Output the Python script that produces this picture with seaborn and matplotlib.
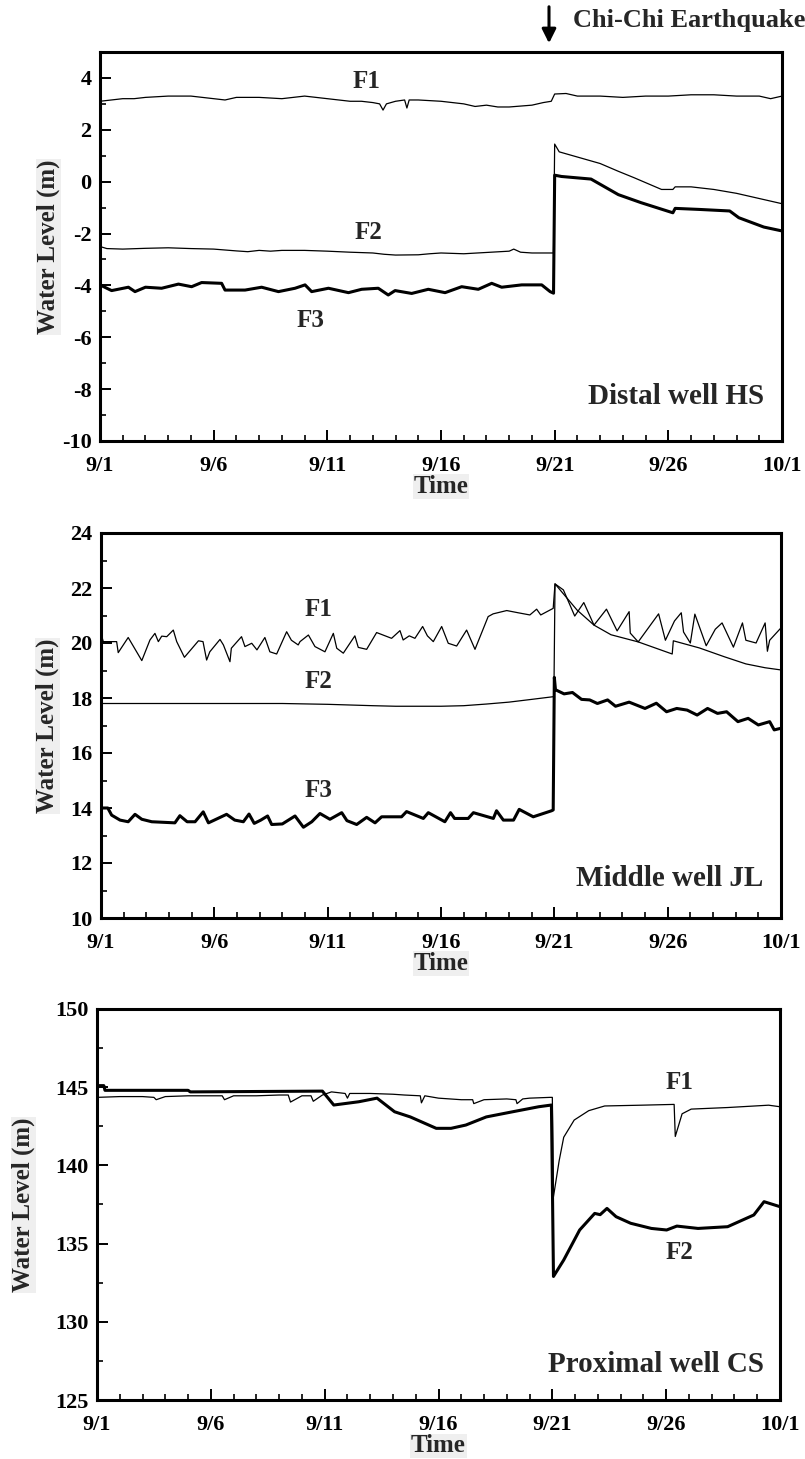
import numpy as np
import pandas as pd
import matplotlib
matplotlib.use("Agg")
import matplotlib.pyplot as plt
from matplotlib.ticker import MultipleLocator, FixedLocator
import seaborn as sns

# ---------------- data (days after 9/1, water level in m) ----------------
date_ticks = [0, 5, 10, 15, 20, 25, 30]
date_labels = ["9/1", "9/6", "9/11", "9/16", "9/21", "9/26", "10/1"]

# Distal well HS
hs_f1_t = [0, 0.5, 1, 1.5, 2, 3, 4, 4.5, 5, 5.5, 6, 7, 8, 9, 9.5, 10, 11, 11.5, 12, 12.3,
           12.45, 12.6, 13, 13.4, 13.5, 13.6, 14, 15, 16, 16.5, 17, 17.5, 18, 19, 19.5,
           19.85, 20.0, 20.5, 21, 22, 23, 24, 25, 26, 27, 28, 29, 29.5, 30]
hs_f1 = [3.1, 3.15, 3.2, 3.2, 3.25, 3.3, 3.3, 3.25, 3.2, 3.15, 3.25, 3.25, 3.2, 3.3, 3.25,
         3.2, 3.1, 3.1, 3.05, 3.0, 2.76, 3.0, 3.1, 3.15, 2.84, 3.15, 3.15, 3.1, 3.0, 2.9,
         2.95, 2.88, 2.88, 2.95, 3.05, 3.1, 3.38, 3.4, 3.3, 3.3, 3.25, 3.3, 3.3, 3.35, 3.35,
         3.3, 3.3, 3.2, 3.3]
hs_f2_t = [0, 0.3, 1, 2, 3, 4, 5, 6, 6.5, 7, 7.5, 8, 9, 10, 11, 12, 12.5, 13, 14, 14.5, 15,
           16, 17, 18, 18.2, 18.5, 19, 19.95, 20.0, 20.2, 21, 22, 22.8, 23.5, 24.7, 25.2,
           25.3, 26, 27, 28, 29, 30]
hs_f2 = [-2.5, -2.58, -2.6, -2.57, -2.55, -2.58, -2.6, -2.67, -2.7, -2.65, -2.68, -2.65,
         -2.65, -2.68, -2.72, -2.75, -2.8, -2.83, -2.82, -2.78, -2.75, -2.78, -2.73, -2.68,
         -2.6, -2.72, -2.75, -2.75, 1.45, 1.15, 0.95, 0.7, 0.4, 0.15, -0.3, -0.3, -0.2,
         -0.2, -0.3, -0.45, -0.65, -0.85]
hs_f3_t = [0, 0.51, 1.25, 1.54, 2.0, 2.71, 3.45, 4.03, 4.47, 5.35, 5.5, 6.38, 7.11, 7.85,
           8.58, 9.02, 9.31, 10.05, 10.93, 11.51, 12.24, 12.68, 12.98, 13.71, 14.44, 15.18,
           15.91, 16.64, 17.23, 17.67, 18.55, 19.43, 19.8, 19.95, 20.0, 20.3, 21.6, 22.8,
           23.8, 25.2, 25.3, 26.35, 27.7, 28.1, 29.2, 30]
hs_f3 = [-3.98, -4.2, -4.07, -4.24, -4.07, -4.11, -3.95, -4.05, -3.89, -3.92, -4.18, -4.18,
         -4.07, -4.24, -4.11, -3.98, -4.24, -4.11, -4.28, -4.15, -4.11, -4.37, -4.2, -4.31,
         -4.15, -4.28, -4.05, -4.15, -3.92, -4.07, -3.98, -3.98, -4.24, -4.3, 0.25, 0.2,
         0.1, -0.5, -0.81, -1.2, -1.03, -1.07, -1.13, -1.39, -1.75, -1.9]

# Middle well JL
jl_f1_t = [0, 0.1, 0.69, 0.76, 1.2, 1.8, 2.16, 2.38, 2.53, 2.68, 2.9, 3.19, 3.34, 3.68, 4.3,
           4.5, 4.66, 4.8, 5.25, 5.4, 5.69, 5.75, 6.2, 6.35, 6.65, 6.88, 7.23, 7.45, 7.75,
           8.19, 8.4, 8.7, 8.78, 9.15, 9.44, 9.88, 10.25, 10.4, 10.69, 11.2, 11.35, 11.72,
           12.16, 12.82, 13.19, 13.33, 13.6, 13.85, 14.19, 14.4, 14.66, 15.03, 15.32, 15.69,
           16.13, 16.5, 17.08, 17.3, 17.9, 18.4, 18.92, 19.22, 19.4, 19.95,
           20.03, 20.4, 20.9, 21.3, 21.75, 22.3, 22.77, 23.3, 23.35, 23.7, 24.6, 24.9, 25.3,
           25.6, 25.7, 26.0, 26.2, 26.7, 27.1, 27.4, 27.9, 28.3, 28.45, 28.9, 29.3, 29.4,
           29.5, 30]
jl_f1 = [20.35, 20.05, 20.05, 19.65, 20.2, 19.36, 20.11, 20.35, 20.05, 20.25, 20.23, 20.47,
         20.05, 19.48, 20.08, 20.05, 19.38, 19.68, 20.13, 19.93, 19.32, 19.81, 20.23, 19.87,
         19.99, 19.75, 20.2, 19.68, 19.6, 20.41, 20.1, 19.93, 20.05, 20.29, 19.87, 19.68,
         20.35, 19.81, 19.63, 20.26, 19.84, 19.77, 20.38, 20.17, 20.45, 20.11, 20.26, 20.17,
         20.6, 20.26, 20.05, 20.6, 19.99, 19.89, 20.47, 19.77, 20.96, 21.06, 21.18, 21.1,
         21.02, 21.23, 21.02, 21.26,
         22.15, 21.93, 20.98, 21.47, 20.65, 21.23, 20.44, 21.14, 20.36, 20.04, 21.06, 20.1,
         20.8, 21.1, 20.4, 20.0, 21.05, 19.9, 20.5, 20.73, 19.85, 20.73, 20.1, 20.0, 20.73,
         19.7, 20.1, 20.55]
jl_f2_t = [0, 2, 4, 6, 8, 10, 12, 13, 15, 16, 17, 18, 19, 19.98, 20.03, 21.0, 21.75, 22.5,
           23.7, 25.2, 25.25, 26.4, 27.5, 28.45, 29.3, 30]
jl_f2 = [17.8, 17.8, 17.8, 17.8, 17.8, 17.77, 17.72, 17.7, 17.7, 17.72, 17.78, 17.85, 17.95,
         18.05, 22.15, 21.2, 20.65, 20.3, 20.04, 19.6, 20.08, 19.82, 19.5, 19.24, 19.1, 19.02]
jl_f3_t = [0, 0.02, 0.3, 0.47, 0.84, 1.2, 1.5, 1.8, 2.24, 3.26, 3.48, 3.8, 4.15, 4.51, 4.74,
           5.0, 5.54, 5.9, 6.28, 6.53, 6.76, 7.05, 7.35, 7.53, 8.0, 8.56, 8.93, 9.3, 9.66,
           10.1, 10.62, 10.85, 11.28, 11.72, 12.09, 12.38, 13.26, 13.48, 14.22, 14.44, 15.17,
           15.42, 15.6, 16.2, 16.43, 17.31, 17.45, 17.75, 18.2, 18.45, 19.07, 19.88, 19.95,
           20.0, 20.05, 20.43, 20.8, 21.2, 21.56, 21.9, 22.35, 22.7, 23.3, 24.0, 24.5, 24.95,
           25.4, 25.86, 26.3, 26.76, 27.2, 27.6, 28.1, 28.55, 29.0, 29.5, 29.7, 30]
jl_f3 = [13.59, 14.0, 14.0, 13.74, 13.56, 13.5, 13.77, 13.59, 13.5, 13.46, 13.72, 13.5, 13.5,
         13.86, 13.46, 13.56, 13.77, 13.56, 13.5, 13.78, 13.44, 13.56, 13.71, 13.4, 13.42,
         13.71, 13.3, 13.5, 13.8, 13.59, 13.83, 13.54, 13.4, 13.66, 13.46, 13.68, 13.68,
         13.87, 13.62, 13.83, 13.5, 13.83, 13.62, 13.62, 13.83, 13.62, 13.9, 13.56, 13.56,
         13.95, 13.68, 13.9, 13.93,
         18.75, 18.3, 18.15, 18.2, 17.95, 17.93, 17.8, 17.93, 17.7, 17.85, 17.62, 17.81, 17.5,
         17.62, 17.56, 17.38, 17.62, 17.44, 17.5, 17.14, 17.26, 17.02, 17.14, 16.84, 16.9]

# Proximal well CS
cs_f1_t = [0, 1, 2, 2.5, 2.6, 3, 4, 5, 5.5, 5.6, 6, 7, 8, 8.4, 8.5, 9, 9.4, 9.5, 9.9, 10.3,
           10.9, 11.0, 11.1, 12, 13, 13.5, 14.2, 14.25, 14.4, 15, 16, 16.5, 16.55, 17, 18,
           18.4, 18.45, 18.7, 19, 19.9, 20.0, 20.05, 20.3, 20.5, 20.96, 21.6, 22.3, 23.9,
           25.35, 25.4, 25.7, 26.1, 27.7, 29.5, 30]
cs_f1 = [144.35, 144.4, 144.4, 144.35, 144.2, 144.4, 144.45, 144.45, 144.45, 144.2, 144.45,
         144.45, 144.5, 144.5, 144.05, 144.45, 144.45, 144.1, 144.5, 144.7, 144.6, 144.3,
         144.6, 144.6, 144.55, 144.5, 144.45, 144.0, 144.45, 144.3, 144.2, 144.2, 143.95,
         144.2, 144.25, 144.2, 143.95, 144.25, 144.3, 144.35, 144.35, 138.0, 140.3, 141.8,
         142.9, 143.5, 143.8, 143.85, 143.9, 141.85, 143.3, 143.6, 143.7, 143.85, 143.75]
cs_f2_t = [0, 0.05, 0.3, 0.35, 4.0, 4.1, 9.9, 10.4, 11.5, 12.3, 13.07, 13.76, 14.9, 15.55,
           16.2, 17.1, 18.26, 19.4, 19.96, 20.05, 20.5, 21.2, 21.86, 22.1, 22.4, 22.8, 23.44,
           24.35, 25.02, 25.47, 26.4, 27.7, 28.85, 29.3, 30]
cs_f2 = [144.8, 145.1, 145.1, 144.8, 144.8, 144.7, 144.75, 143.86, 144.07, 144.3, 143.43,
         143.1, 142.37, 142.37, 142.58, 143.1, 143.43, 143.75, 143.86, 132.9, 133.95, 135.87,
         136.93, 136.85, 137.25, 136.72, 136.3, 135.97, 135.87, 136.12, 135.97, 136.08,
         136.83, 137.68, 137.36]

# ---------------- style ----------------
sns.set_style("ticks")
plt.rcParams["font.family"] = ["Liberation Serif", "DejaVu Serif"]
plt.rcParams["font.weight"] = "bold"
plt.rcParams["axes.unicode_minus"] = False

fig = plt.figure(figsize=(8.05, 14.59), dpi=100)
W, H = 805.0, 1459.0

def add_ax(l, r, t, b):
    return fig.add_axes([l / W, 1 - b / H, (r - l) / W, (b - t) / H])

ax1 = add_ax(100, 782, 52, 441)
ax2 = add_ax(101, 781, 533, 918)
ax3 = add_ax(97, 780, 1009, 1400)

THIN, BOLD = 0.9, 2.2

def series(ax, t, v, lw):
    df = pd.DataFrame({"t": t, "v": v})
    sns.lineplot(data=df, x="t", y="v", ax=ax, color="black", linewidth=lw,
                 estimator=None, sort=False, legend=False)

def style(ax, ylim, ymajor, yminor, ylab_x):
    ax.set_xlim(0, 30)
    ax.set_ylim(*ylim)
    ax.xaxis.set_major_locator(FixedLocator(date_ticks))
    ax.set_xticklabels(date_labels)
    ax.xaxis.set_minor_locator(MultipleLocator(1))
    ax.yaxis.set_major_locator(FixedLocator(ymajor))
    ax.yaxis.set_minor_locator(MultipleLocator(yminor))
    ax.tick_params(which="both", direction="in", top=False, right=False, colors="black")
    ax.tick_params(which="major", length=8, width=1.4, labelsize=16)
    ax.tick_params(axis="x", which="major", pad=11)
    ax.tick_params(axis="y", which="major", pad=6)
    ax.tick_params(which="minor", length=4, width=1.2)
    for lab in ax.get_xticklabels() + ax.get_yticklabels():
        lab.set_fontweight("bold")
    for s in ax.spines.values():
        s.set_linewidth(2.2)
        s.set_color("black")
    ax.set_xlabel("Time", fontsize=18, fontweight="bold",
                  bbox=dict(facecolor="#efefef", edgecolor="none", pad=0.5))
    ax.set_ylabel("Water Level (m)", fontsize=18, fontweight="bold",
                  bbox=dict(facecolor="#efefef", edgecolor="none", pad=0.5))
    ax.xaxis.set_label_coords(0.5, -0.088)
    ax.yaxis.set_label_coords(ylab_x, 0.5)

# Panel 1
series(ax1, hs_f1_t, hs_f1, THIN)
series(ax1, hs_f2_t, hs_f2, THIN)
series(ax1, hs_f3_t, hs_f3, BOLD)
style(ax1, (-10, 5), list(range(-10, 5, 2)), 1, -0.059)
ax1.text(11.7, 3.85, "F1", fontsize=18, fontweight="bold", ha="center", va="center")
ax1.text(11.8, -1.95, "F2", fontsize=18, fontweight="bold", ha="center", va="center")
ax1.text(9.25, -5.35, "F3", fontsize=18, fontweight="bold", ha="center", va="center")
ax1.text(29.2, -8.3, "Distal well HS", fontsize=21, fontweight="bold", ha="right", va="center")

# Panel 2
series(ax2, jl_f1_t, jl_f1, THIN)
series(ax2, jl_f2_t, jl_f2, THIN)
series(ax2, jl_f3_t, jl_f3, BOLD)
style(ax2, (10, 24), list(range(10, 25, 2)), 1, -0.062)
ax2.text(9.6, 21.2, "F1", fontsize=18, fontweight="bold", ha="center", va="center")
ax2.text(9.6, 18.6, "F2", fontsize=18, fontweight="bold", ha="center", va="center")
ax2.text(9.6, 14.65, "F3", fontsize=18, fontweight="bold", ha="center", va="center")
ax2.text(29.2, 11.45, "Middle well JL", fontsize=21, fontweight="bold", ha="right", va="center")

# Panel 3
series(ax3, cs_f1_t, cs_f1, THIN)
series(ax3, cs_f2_t, cs_f2, BOLD)
style(ax3, (125, 150), list(range(125, 151, 5)), 2.5, -0.091)
ax3.text(25.6, 145.3, "F1", fontsize=18, fontweight="bold", ha="center", va="center")
ax3.text(25.6, 134.45, "F2", fontsize=18, fontweight="bold", ha="center", va="center")
ax3.text(29.3, 127.25, "Proximal well CS", fontsize=21, fontweight="bold", ha="right", va="center")

# Earthquake marker
fig.add_artist(matplotlib.patches.FancyArrowPatch(
    (549 / W, 1 - 4 / H), (549 / W, 1 - 46 / H), transform=fig.transFigure,
    arrowstyle="-|>,head_length=0.6,head_width=0.3", mutation_scale=14,
    color="black", linewidth=2.2))
fig.text(573 / W, 1 - 21 / H, "Chi-Chi Earthquake", fontsize=19, fontweight="bold",
         ha="left", va="center")

fig.savefig("out.png", dpi=100)
